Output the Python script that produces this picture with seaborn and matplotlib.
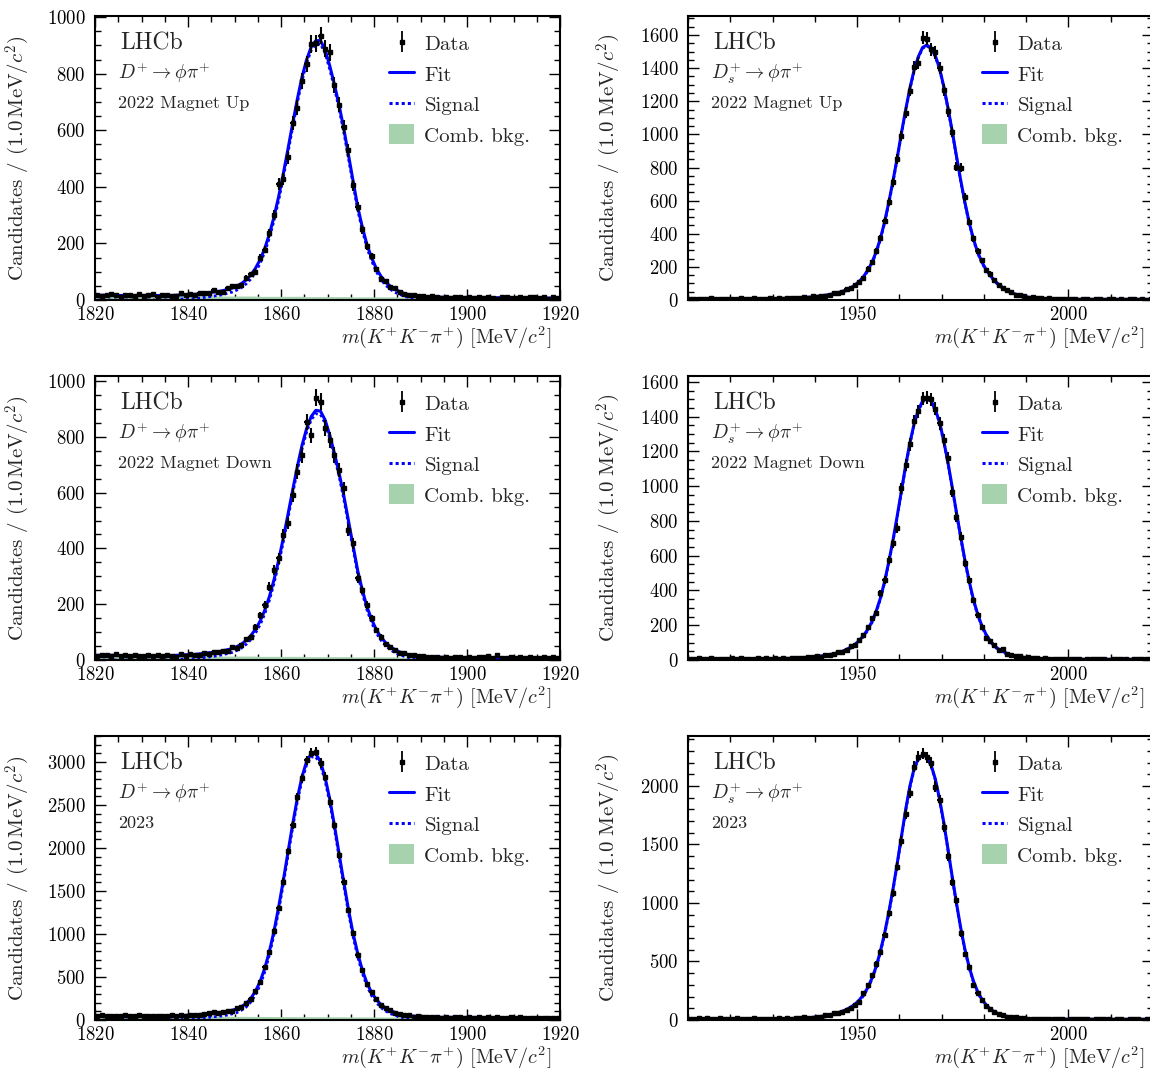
import numpy as np
import pandas as pd
import matplotlib
matplotlib.use("Agg")
import matplotlib.pyplot as plt
import seaborn as sns
from matplotlib.ticker import MultipleLocator, AutoMinorLocator
from matplotlib.patches import Patch
from matplotlib.lines import Line2D

# ---------------- data (1 MeV bins) ----------------
# D+ -> phi pi+, 2022 Magnet Up   (bins 1820..1920)
dp_up_data = [19,14,18,21,16,12,19,16,14,22,
              13,17,20,10,16,19,15,14,23,17,
              22,16,26,25,23,36,28,27,41,48,
              48,53,79,91,100,149,178,236,300,410,
              428,505,625,680,775,835,905,908,935,888,
              875,760,690,610,530,405,330,250,190,155,
              108,76,66,45,41,28,20,17,19,14,
              15,9,13,11,8,12,7,10,9,6,
              12,8,10,7,11,8,5,10,12,7,
              8,11,6,9,10,7,11,5,12,8]
dp_up_sig = [0,0,0,0,0,0,0,0,0,0,
             0,0,0,0,0,1,1,2,3,4,
             5,5,7,9,11,14,16,19,24,28,
             35,44,57,74,98,129,169,220,281,353,
             434,521,610,696,774,837,883,905,905,872,
             815,749,676,594,502,410,318,246,184,138,
             100,73,52,38,27,20,13,9,6,4,
             3,2,1,0,0,0,0,0,0,0,
             0,0,0,0,0,0,0,0,0,0,
             0,0,0,0,0,0,0,0,0,0]
dp_up_bkg = [17,17,17,17,17,16,16,16,16,16,
             16,16,16,16,16,15,15,15,15,15,
             15,15,15,15,15,14,14,14,14,14,
             14,14,14,14,14,13,13,13,13,13,
             13,13,13,13,13,12,12,12,12,12,
             12,12,12,12,12,11,11,11,11,11,
             11,11,11,11,11,10,10,10,10,10,
             10,10,10,10,10,9,9,9,9,9,
             9,9,9,9,9,8,8,8,8,8,
             8,8,8,8,8,7,7,7,7,7]

# D+ -> phi pi+, 2022 Magnet Down
dp_down_data = [16,19,17,15,20,14,17,15,18,13,
                16,19,15,17,14,18,15,12,20,16,
                21,18,19,24,22,29,27,31,34,45,
                44,55,75,84,118,161,197,263,323,364,
                448,490,591,675,735,854,805,940,926,830,
                789,735,681,615,466,418,293,251,197,149,
                108,84,57,48,35,24,26,18,17,13,
                15,11,9,12,8,10,7,11,9,8,
                12,6,9,10,14,7,17,8,6,11,
                8,9,7,10,8,6,9,7,11,8]
dp_down_sig = [0,0,0,0,0,0,0,0,0,0,
               0,0,0,0,0,1,1,2,3,4,
               4,5,7,9,11,13,16,19,23,27,
               34,43,56,73,96,126,165,214,275,345,
               424,509,595,679,755,817,861,883,880,848,
               793,728,658,578,488,399,309,239,179,134,
               97,71,51,37,26,19,13,9,6,4,
               3,2,1,0,0,0,0,0,0,0,
               0,0,0,0,0,0,0,0,0,0,
               0,0,0,0,0,0,0,0,0,0]
dp_down_bkg = [17,17,17,17,17,16,16,16,16,16,
               16,16,16,16,16,15,15,15,15,15,
               15,15,15,15,15,14,14,14,14,14,
               14,14,14,14,14,13,13,13,13,13,
               13,13,13,13,13,12,12,12,12,12,
               12,12,12,12,12,11,11,11,11,11,
               11,11,11,11,11,10,10,10,10,10,
               10,10,10,10,10,9,9,9,9,9,
               9,9,9,9,9,8,8,8,8,8,
               8,8,8,8,8,7,7,7,7,7]

# D+ -> phi pi+, 2023
dp_23_data = [46,55,52,44,51,47,56,43,49,53,
              45,50,41,52,48,44,55,47,53,50,
              61,56,63,72,78,95,84,90,106,110,
              135,150,198,245,340,440,612,785,1040,1300,
              1610,1960,2265,2590,2810,3020,3110,3120,2990,2830,
              2540,2270,1920,1610,1280,1015,760,585,420,325,
              240,170,145,112,84,75,55,54,40,46,
              35,38,30,35,29,33,27,34,31,26,
              36,28,32,25,30,27,33,24,29,31,
              26,30,23,28,25,29,22,27,24,26]
dp_23_sig = [0,0,0,0,0,0,0,0,0,0,
             0,0,0,0,1,2,3,5,6,9,
             12,15,21,25,31,37,43,49,58,71,
             86,114,150,209,292,405,559,755,995,1274,
             1584,1910,2235,2536,2785,2966,3058,3058,2963,2778,
             2527,2223,1894,1566,1253,970,737,543,393,282,
             203,144,104,74,55,37,25,18,12,9,
             6,3,0,0,0,0,0,0,0,0,
             0,0,0,0,0,0,0,0,0,0,
             0,0,0,0,0,0,0,0,0,0]
dp_23_bkg = [50,50,49,49,49,49,48,48,48,48,
             47,47,47,47,46,46,46,46,45,45,
             45,45,44,44,44,44,43,43,43,43,
             42,42,42,42,41,41,41,41,40,40,
             40,40,39,39,39,39,38,38,38,38,
             37,37,37,37,36,36,36,36,35,35,
             35,35,34,34,34,34,33,33,33,33,
             32,32,32,32,31,31,31,31,30,30,
             30,30,29,29,29,29,28,28,28,28,
             27,27,27,27,26,26,26,26,25,25]

# Ds+ -> phi pi+, 2022 Magnet Up   (bins 1910..2020)
ds_up_data = [6,9,5,8,7,10,4,8,6,9,
              7,5,10,6,8,11,6,9,7,10,
              8,12,9,13,10,14,11,17,15,22,
              20,27,26,31,40,42,50,66,72,91,
              108,131,190,228,295,375,480,594,712,850,
              990,1130,1265,1405,1430,1585,1578,1515,1495,1400,
              1270,1140,1015,805,800,620,473,372,298,240,
              180,160,121,92,70,60,46,32,29,24,
              15,16,10,12,8,10,5,8,7,4,
              6,7,3,5,6,2,4,5,3,6,
              4,2,5,3,6,4,3,5,2,4]
ds_up_sig = [0,0,0,0,0,0,0,0,0,0,
             0,0,0,0,0,1,1,1,1,2,
             3,3,4,4,5,6,7,9,11,13,
             16,19,23,27,32,38,46,56,68,84,
             106,134,174,219,284,364,464,584,714,854,
             1004,1144,1274,1384,1464,1520,1535,1515,1470,1395,
             1285,1155,1015,865,720,585,465,365,285,225,
             180,143,113,89,69,53,40,30,22,16,
             12,9,7,5,4,3,2,2,1,1,
             0,0,0,0,0,0,0,0,0,0,
             0,0,0,0,0,0,0,0,0,0]
ds_up_bkg = [7,7,7,7,7,7,7,7,7,7,
             7,7,7,7,7,7,7,7,7,6,
             6,6,6,6,6,6,6,6,6,6,
             6,6,6,6,6,6,6,6,6,6,
             6,6,6,6,6,6,6,6,6,6,
             6,6,6,6,6,5,5,5,5,5,
             5,5,5,5,5,5,5,5,5,5,
             5,5,5,5,5,5,5,5,5,5,
             5,5,5,5,5,5,5,5,5,5,
             5,5,4,4,4,4,4,4,4,4,
             4,4,4,4,4,4,4,4,4,4]

# Ds+ -> phi pi+, 2022 Magnet Down
ds_down_data = [8,5,9,6,7,10,5,8,6,4,
                9,7,11,6,8,5,9,7,10,6,
                9,7,12,8,11,9,14,12,17,15,
                22,19,29,28,33,45,48,58,80,88,
                115,144,188,240,270,384,460,576,672,760,
                988,1122,1240,1375,1430,1505,1510,1500,1445,1362,
                1266,1161,969,825,710,557,460,345,259,192,
                125,112,84,60,62,36,31,21,22,13,
                15,9,12,6,9,5,8,4,7,6,
                3,8,5,2,6,4,3,7,4,2,
                5,3,6,4,2,5,3,4,6,3]
ds_down_sig = [0,0,0,0,0,0,0,0,0,0,
               0,0,0,0,0,0,0,0,0,1,
               2,2,3,3,4,5,6,8,10,12,
               14,17,21,25,30,36,44,55,68,84,
               106,134,169,214,274,349,444,559,684,824,
               969,1114,1244,1354,1434,1485,1500,1485,1435,1365,
               1255,1130,990,845,705,570,450,345,260,193,
               143,105,77,57,43,33,25,19,14,10,
               8,6,4,3,2,1,1,0,0,0,
               0,0,0,0,0,0,0,0,0,0,
               0,0,0,0,0,0,0,0,0,0]
ds_down_bkg = [7,7,7,7,7,7,7,7,7,7,
               7,7,7,7,7,7,7,7,7,6,
               6,6,6,6,6,6,6,6,6,6,
               6,6,6,6,6,6,6,6,6,6,
               6,6,6,6,6,6,6,6,6,6,
               6,6,6,6,6,5,5,5,5,5,
               5,5,5,5,5,5,5,5,5,5,
               5,5,5,5,5,5,5,5,5,5,
               5,5,5,5,5,5,5,5,5,5,
               5,5,4,4,4,4,4,4,4,4,
               4,4,4,4,4,4,4,4,4,4]

# Ds+ -> phi pi+, 2023
ds_23_data = [12,8,14,10,13,9,11,15,8,12,
              10,13,7,11,9,14,10,8,12,11,
              9,13,10,15,12,17,14,22,18,21,
              28,26,40,41,57,58,70,88,100,131,
              157,228,299,385,480,584,726,912,1083,1310,
              1530,1760,1938,2165,2250,2275,2245,2200,1995,1880,
              1650,1400,1182,1026,740,560,456,300,228,171,
              118,95,71,55,43,26,23,22,13,15,
              9,12,8,10,6,9,5,8,7,4,
              9,6,5,8,7,4,9,6,5,7,
              4,8,6,3,7,5,8,4,6,5]
ds_23_sig = [0,0,0,0,0,0,0,0,0,0,
             0,0,0,0,0,0,0,0,0,0,
             0,1,1,2,3,4,6,8,10,13,
             17,21,27,35,43,53,66,81,101,126,
             161,206,266,346,446,576,731,911,1111,1331,
             1561,1791,1991,2141,2226,2257,2242,2172,2052,1882,
             1682,1452,1217,992,782,597,447,327,237,170,
             122,87,62,44,32,23,17,13,9,6,
             4,3,2,1,1,0,0,0,0,0,
             0,0,0,0,0,0,0,0,0,0,
             0,0,0,0,0,0,0,0,0,0]
ds_23_bkg = [11,11,11,11,11,11,11,11,11,11,
             11,10,10,10,10,10,10,10,10,10,
             10,10,10,10,10,10,10,10,10,10,
             10,10,10,9,9,9,9,9,9,9,
             9,9,9,9,9,9,9,9,9,9,
             9,9,9,9,9,8,8,8,8,8,
             8,8,8,8,8,8,8,8,8,8,
             8,8,8,8,8,8,8,7,7,7,
             7,7,7,7,7,7,7,7,7,7,
             7,7,7,7,7,7,7,7,7,6,
             6,6,6,6,6,6,6,6,6,6]

dp_range = (1820, 1920)
ds_range = (1910, 2020)
dp_label = r"$D^{+}\to\phi\pi^{+}$"
ds_label = r"$D_{s}^{+}\to\phi\pi^{+}$"
year_labels = ["2022 Magnet Up", "2022 Magnet Down", "2023"]
legend_labels = ["Data", "Fit", "Signal", "Comb. bkg."]

# ---------------- style ----------------
sns.set_theme(style="ticks")
plt.rcParams.update({
    "font.family": ["cmr10", "DejaVu Serif"],
    "mathtext.fontset": "cm",
    "axes.formatter.use_mathtext": True,
    "axes.unicode_minus": False,
    "axes.linewidth": 1.5,
    "axes.edgecolor": "black",
    "xtick.direction": "in",
    "ytick.direction": "in",
    "xtick.top": True,
    "ytick.right": True,
    "xtick.major.size": 8,
    "ytick.major.size": 8,
    "xtick.minor.size": 4,
    "ytick.minor.size": 4,
    "xtick.major.width": 1.0,
    "ytick.major.width": 1.0,
    "xtick.minor.width": 1.0,
    "ytick.minor.width": 1.0,
    "xtick.color": "black",
    "ytick.color": "black",
    "xtick.labelsize": 13.5,
    "ytick.labelsize": 13.5,
})

GREEN = "#a6d2ad"
BLUE = "#0000ff"

W, H = 1150, 1068
fig = plt.figure(figsize=(W / 100, H / 100), dpi=100)

panels = [
    (dp_up_data, dp_up_sig, dp_up_bkg, dp_range, dp_label, year_labels[0], 1004, 200, 20, True),
    (ds_up_data, ds_up_sig, ds_up_bkg, ds_range, ds_label, year_labels[0], 1715, 200, 50, False),
    (dp_down_data, dp_down_sig, dp_down_bkg, dp_range, dp_label, year_labels[1], 1018, 200, 20, True),
    (ds_down_data, ds_down_sig, ds_down_bkg, ds_range, ds_label, year_labels[1], 1634, 200, 50, False),
    (dp_23_data, dp_23_sig, dp_23_bkg, dp_range, dp_label, year_labels[2], 3302, 500, 20, True),
    (ds_23_data, ds_23_sig, ds_23_bkg, ds_range, ds_label, year_labels[2], 2427, 500, 50, False),
]

row_tops = [16, 376, 736]
ax_h = 284
col_lefts = [95, 688]
ax_w = 465

for k, (data, sig, bkg, (lo, hi), decay, year, ymax, ymaj, xmaj, thin) in enumerate(panels):
    r, c = divmod(k, 2)
    left = col_lefts[c] / W
    bottom = (H - row_tops[r] - ax_h) / H
    ax = fig.add_axes([left, bottom, ax_w / W, ax_h / H])

    data = np.asarray(data, float)
    sig = np.asarray(sig, float)
    bkg = np.asarray(bkg, float)
    centers = lo + 0.5 + np.arange(len(data))
    df = pd.DataFrame({"m": centers, "n": data, "sig": sig, "fit": sig + bkg})

    ax.fill_between(np.r_[lo, centers, hi], 0, np.r_[bkg[0], bkg, bkg[-1]],
                    color=GREEN, lw=0, zorder=1)
    sns.lineplot(data=df, x="m", y="sig", ax=ax, color=BLUE, lw=2.0,
                 linestyle=(0, (1, 1)), estimator=None, zorder=2)
    sns.lineplot(data=df, x="m", y="fit", ax=ax, color=BLUE, lw=2.2,
                 estimator=None, zorder=3)
    ax.errorbar(df["m"], df["n"], yerr=np.sqrt(df["n"]), xerr=0.5, fmt="s",
                ms=2.6, color="black", elinewidth=1.5, capsize=0, zorder=4)

    ax.set_xlim(lo, hi)
    ax.set_ylim(0, ymax)
    ax.xaxis.set_major_locator(MultipleLocator(xmaj))
    ax.xaxis.set_minor_locator(AutoMinorLocator())
    ax.yaxis.set_major_locator(MultipleLocator(ymaj))
    ax.yaxis.set_minor_locator(AutoMinorLocator())
    ax.tick_params(which="both", top=True, right=True)
    ax.tick_params(axis="y", pad=7)
    ax.tick_params(axis="x", pad=4.5)

    if thin:
        ylab = r"Candidates / $(1.0\,\mathrm{MeV}/c^{2})$"
        ylx = -0.135
    else:
        ylab = r"Candidates / $(1.0\ \mathrm{MeV}/c^{2})$"
        ylx = -0.14
    ax.set_ylabel(ylab, fontsize=15)
    ax.yaxis.set_label_coords(ylx, 0.5)
    ax.set_xlabel(r"$m(K^{+}K^{-}\pi^{+})$ [MeV$/c^{2}$]", fontsize=14.5, loc="right")
    ax.xaxis.set_label_coords(0.981, -0.087)

    ax.text(0.055, 0.905, "LHCb", transform=ax.transAxes, fontsize=17, va="center", ha="left")
    ax.text(0.05, 0.80, decay, transform=ax.transAxes, fontsize=14, va="center", ha="left")
    ax.text(0.05, 0.692, year, transform=ax.transAxes, fontsize=13, va="center", ha="left")

    h_data = ax.errorbar([np.nan], [np.nan], yerr=[1.0], fmt="s", ms=3.5, color="black",
                         elinewidth=1.3, capsize=0)
    h_fit = Line2D([], [], color=BLUE, lw=2.2)
    h_sig = Line2D([], [], color=BLUE, lw=2.2, linestyle=(0, (1, 1)))
    h_bkg = Patch(facecolor=GREEN, edgecolor="none")
    ax.legend([h_data, h_fit, h_sig, h_bkg], legend_labels, loc="upper left",
              bbox_to_anchor=(0.592, 1.006), frameon=False, fontsize=15,
              handlelength=1.2, handleheight=1.1, handletextpad=0.5, labelspacing=0.45)

fig.savefig("out.png", dpi=100)
